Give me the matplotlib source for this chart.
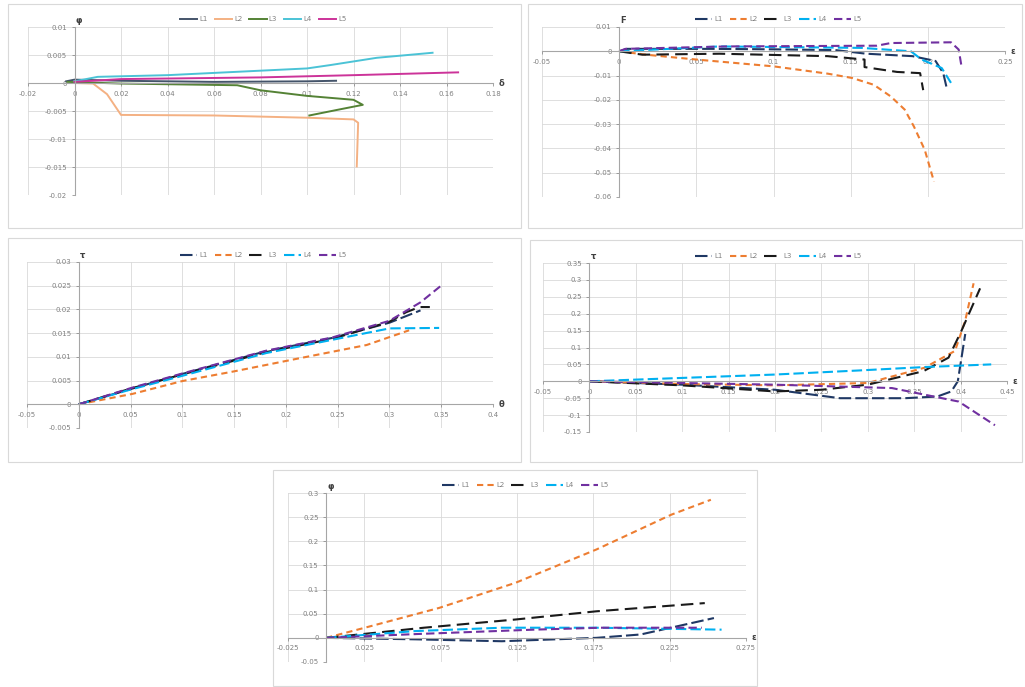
import matplotlib
matplotlib.use("Agg")
import matplotlib.pyplot as plt
from matplotlib.patches import Rectangle
import numpy as np

W, H = 1025, 687
labels = ["L1", "L2", "L3", "L4", "L5"]

# ---------------- Panel 1 data ----------------
p1_s1_x = [-0.0036, 0.0, 0.02, 0.06, 0.1, 0.1125]
p1_s1_y = [0.0003, 0.0006, 0.0004, 0.0002, 0.0003, 0.0004]
p1_s2_x = [0.0, 0.008, 0.014, 0.02, 0.06, 0.1, 0.12, 0.122, 0.1214]
p1_s2_y = [0.0, -0.0001, -0.002, -0.0057, -0.0058, -0.0062, -0.0065, -0.0071, -0.0149]
p1_s3_x = [-0.003, 0.02, 0.07, 0.08, 0.1, 0.12, 0.124, 0.113, 0.101]
p1_s3_y = [0.0002, -0.0001, -0.0004, -0.0013, -0.0023, -0.003, -0.0039, -0.0048, -0.0058]
p1_s4_x = [0.0, 0.01, 0.04, 0.08, 0.1, 0.11, 0.13, 0.154]
p1_s4_y = [0.0003, 0.0011, 0.0014, 0.0022, 0.0026, 0.0032, 0.0045, 0.0054]
p1_s5_x = [0.0, 0.02, 0.08, 0.12, 0.165]
p1_s5_y = [0.0002, 0.0007, 0.001, 0.0014, 0.0019]

# ---------------- Panel 2 data ----------------
p2_s1_x = [0.0, 0.005, 0.06, 0.1, 0.14, 0.16, 0.19, 0.205, 0.21, 0.212]
p2_s1_y = [0.0, 0.001, 0.001, 0.0008, 0.0005, -0.001, -0.002, -0.004, -0.009, -0.0145]
p2_s2_x = [0.0, 0.0174, 0.05, 0.1, 0.135, 0.151, 0.165, 0.176, 0.185, 0.191, 0.198, 0.204]
p2_s2_y = [0.0, -0.0014, -0.0034, -0.0062, -0.0092, -0.011, -0.0138, -0.0186, -0.024, -0.031, -0.0406, -0.0537]
p2_s3_x = [0.0, 0.015, 0.065, 0.135, 0.159, 0.159, 0.18, 0.195, 0.197]
p2_s3_y = [0.0, -0.0014, -0.001, -0.002, -0.0034, -0.0065, -0.0085, -0.009, -0.016]
p2_s4_x = [0.0, 0.065, 0.157, 0.189, 0.196, 0.209, 0.215]
p2_s4_y = [0.0, 0.002, 0.0014, 0.0, -0.0034, -0.0069, -0.013]
p2_s5_x = [0.0, 0.004, 0.07, 0.167, 0.176, 0.215, 0.22, 0.222]
p2_s5_y = [0.0, 0.001, 0.002, 0.0023, 0.0034, 0.0037, 0.0007, -0.0069]

# ---------------- Panel 3 data ----------------
p3_s1_x = [0.0, 0.05, 0.1, 0.181, 0.245, 0.3, 0.33]
p3_s1_y = [0.0, 0.0032, 0.0064, 0.0112, 0.014, 0.0172, 0.0198]
p3_s2_x = [0.0, 0.052, 0.1, 0.149, 0.213, 0.278, 0.319]
p3_s2_y = [0.0, 0.0022, 0.0049, 0.0069, 0.0097, 0.0125, 0.0156]
p3_s3_x = [0.0, 0.05, 0.1, 0.181, 0.245, 0.3, 0.316, 0.329, 0.339]
p3_s3_y = [0.0, 0.0033, 0.0063, 0.011, 0.0138, 0.0174, 0.0194, 0.0205, 0.0205]
p3_s4_x = [0.0, 0.05, 0.1, 0.181, 0.245, 0.3, 0.348]
p3_s4_y = [0.0, 0.0031, 0.006, 0.0108, 0.0136, 0.016, 0.0161]
p3_s5_x = [0.0, 0.05, 0.1, 0.181, 0.245, 0.3, 0.33, 0.3515]
p3_s5_y = [0.0, 0.0034, 0.0065, 0.0113, 0.0141, 0.0176, 0.0215, 0.0253]

# ---------------- Panel 4 data ----------------
p4_s1_x = [0.0, 0.1, 0.2, 0.27, 0.34, 0.375, 0.39, 0.397, 0.401, 0.405]
p4_s1_y = [0.0, -0.01, -0.025, -0.05, -0.05, -0.045, -0.03, 0.0, 0.07, 0.14]
p4_s2_x = [0.0, 0.1, 0.2, 0.3, 0.361, 0.394, 0.405, 0.414]
p4_s2_y = [0.0, -0.008, -0.012, -0.005, 0.04, 0.09, 0.18, 0.29]
p4_s3_x = [0.0, 0.1, 0.2, 0.25, 0.3, 0.36, 0.387, 0.401, 0.421]
p4_s3_y = [0.0, -0.012, -0.03, -0.025, -0.01, 0.03, 0.07, 0.15, 0.275]
p4_s4_x = [0.0, 0.1, 0.2, 0.29, 0.36, 0.433]
p4_s4_y = [0.0, 0.01, 0.02, 0.032, 0.042, 0.05]
p4_s5_x = [0.0, 0.1, 0.2, 0.326, 0.398, 0.437]
p4_s5_y = [0.0, -0.005, -0.01, -0.02, -0.06, -0.13]

# ---------------- Panel 5 data ----------------
p5_s1_x = [0.0, 0.058, 0.115, 0.177, 0.206, 0.254]
p5_s1_y = [0.0, -0.003, -0.007, 0.0, 0.007, 0.041]
p5_s2_x = [0.0, 0.025, 0.074, 0.124, 0.177, 0.226, 0.252]
p5_s2_y = [0.0, 0.0207, 0.062, 0.114, 0.183, 0.255, 0.286]
p5_s3_x = [0.0, 0.064, 0.124, 0.177, 0.248]
p5_s3_y = [0.0, 0.021, 0.038, 0.055, 0.072]
p5_s4_x = [0.0, 0.058, 0.115, 0.177, 0.259]
p5_s4_y = [0.0, 0.014, 0.021, 0.021, 0.017]
p5_s5_x = [0.0, 0.06, 0.136, 0.18, 0.246]
p5_s5_y = [0.0, 0.008, 0.017, 0.021, 0.021]

# ---------------- axis settings ----------------
p1_xticks = [-0.02, 0, 0.02, 0.04, 0.06, 0.08, 0.1, 0.12, 0.14, 0.16, 0.18]
p1_yticks = [-0.02, -0.015, -0.01, -0.005, 0, 0.005, 0.01]
p2_xticks = [-0.05, 0, 0.05, 0.1, 0.15, 0.2, 0.25]
p2_yticks = [-0.06, -0.05, -0.04, -0.03, -0.02, -0.01, 0, 0.01]
p3_xticks = [-0.05, 0, 0.05, 0.1, 0.15, 0.2, 0.25, 0.3, 0.35, 0.4]
p3_yticks = [-0.005, 0, 0.005, 0.01, 0.015, 0.02, 0.025, 0.03]
p4_xticks = [-0.05, 0, 0.05, 0.1, 0.15, 0.2, 0.25, 0.3, 0.35, 0.4, 0.45]
p4_yticks = [-0.15, -0.1, -0.05, 0, 0.05, 0.1, 0.15, 0.2, 0.25, 0.3, 0.35]
p5_xticks = [-0.025, 0.025, 0.075, 0.125, 0.175, 0.225, 0.275]
p5_yticks = [-0.05, 0, 0.05, 0.1, 0.15, 0.2, 0.25, 0.3]

fig = plt.figure(figsize=(W / 100, H / 100), dpi=100)
fig.patch.set_facecolor("white")


def px_axes(x0, y0, x1, y1):
    return fig.add_axes([x0 / W, 1 - y1 / H, (x1 - x0) / W, (y1 - y0) / H])


def frame(x0, y0, x1, y1):
    fig.patches.append(Rectangle((x0 / W, 1 - y1 / H), (x1 - x0) / W, (y1 - y0) / H,
                                 transform=fig.transFigure, fill=False,
                                 edgecolor="#d9d9d9", linewidth=0.8))


def style_axes(ax, xticks, yticks, legend_xy, ylab, xlab):
    ax.set_xlim(xticks[0], xticks[-1])
    ax.set_ylim(yticks[0], yticks[-1])
    ax.set_xticks(xticks)
    ax.set_yticks(yticks)
    ax.set_xticklabels(["%g" % t for t in xticks])
    ax.set_yticklabels(["%g" % t for t in yticks])
    ax.spines["left"].set_position(("data", 0))
    ax.spines["bottom"].set_position(("data", 0))
    ax.spines["top"].set_visible(False)
    ax.spines["right"].set_visible(False)
    for s in ("left", "bottom"):
        ax.spines[s].set_color("#a6a6a6")
        ax.spines[s].set_linewidth(0.8)
    ax.tick_params(labelsize=5, colors="#808080", length=2, width=0.5)
    ax.grid(True, color="#d9d9d9", linewidth=0.6)
    ax.set_axisbelow(True)
    ax.annotate(ylab, xy=(0, yticks[-1]), xytext=(1, 3), textcoords="offset points",
                fontsize=6, fontweight="bold", color="#404040", annotation_clip=False)
    ax.annotate(xlab, xy=(xticks[-1], 0), xytext=(4, 0), textcoords="offset points",
                fontsize=6, fontweight="bold", color="#404040", va="center",
                annotation_clip=False)
    ax.legend(loc="center", bbox_to_anchor=legend_xy, bbox_transform=fig.transFigure,
              ncol=5, fontsize=5, frameon=False, handlelength=2.5, columnspacing=1.0,
              handletextpad=0.3, labelcolor="#808080")


# Panel 1 (solid lines)
frame(8, 4, 521, 228)
ax1 = px_axes(28, 27, 493, 195)
c1 = ["#44546A", "#F4B183", "#548235", "#4BC3D6", "#CC3399"]
for xs, ys, c, lb in zip([p1_s1_x, p1_s2_x, p1_s3_x, p1_s4_x, p1_s5_x],
                         [p1_s1_y, p1_s2_y, p1_s3_y, p1_s4_y, p1_s5_y], c1, labels):
    ax1.plot(xs, ys, color=c, linewidth=1.4, label=lb)
style_axes(ax1, p1_xticks, p1_yticks, (263 / W, 1 - 19 / H), "φ", "δ")

colors = ["#1F3864", "#ED7D31", "#1a1a1a", "#00B0F0", "#7030A0"]
dashes = [(6, 2), (3, 2), (6, 3), (5, 2), (4, 2)]


def draw_dashed(ax, xs_list, ys_list):
    for xs, ys, c, d, lb in zip(xs_list, ys_list, colors, dashes, labels):
        ax.plot(xs, ys, color=c, linewidth=1.5, dashes=d, label=lb)


frame(528, 4, 1022, 228)
ax2 = px_axes(542, 27, 1005, 197)
draw_dashed(ax2, [p2_s1_x, p2_s2_x, p2_s3_x, p2_s4_x, p2_s5_x],
            [p2_s1_y, p2_s2_y, p2_s3_y, p2_s4_y, p2_s5_y])
style_axes(ax2, p2_xticks, p2_yticks, (778 / W, 1 - 19 / H), "F", "ε")

frame(8, 238, 521, 462)
ax3 = px_axes(27, 262, 493, 428)
draw_dashed(ax3, [p3_s1_x, p3_s2_x, p3_s3_x, p3_s4_x, p3_s5_x],
            [p3_s1_y, p3_s2_y, p3_s3_y, p3_s4_y, p3_s5_y])
style_axes(ax3, p3_xticks, p3_yticks, (263 / W, 1 - 255 / H), "τ", "θ")

frame(530, 240, 1022, 462)
ax4 = px_axes(543, 263, 1007, 432)
draw_dashed(ax4, [p4_s1_x, p4_s2_x, p4_s3_x, p4_s4_x, p4_s5_x],
            [p4_s1_y, p4_s2_y, p4_s3_y, p4_s4_y, p4_s5_y])
style_axes(ax4, p4_xticks, p4_yticks, (778 / W, 1 - 256 / H), "τ", "ε")

frame(273, 470, 757, 686)
ax5 = px_axes(288, 493, 746, 662)
draw_dashed(ax5, [p5_s1_x, p5_s2_x, p5_s3_x, p5_s4_x, p5_s5_x],
            [p5_s1_y, p5_s2_y, p5_s3_y, p5_s4_y, p5_s5_y])
style_axes(ax5, p5_xticks, p5_yticks, (525 / W, 1 - 485 / H), "φ", "ε")

fig.savefig("out.png", dpi=100, facecolor="white")
